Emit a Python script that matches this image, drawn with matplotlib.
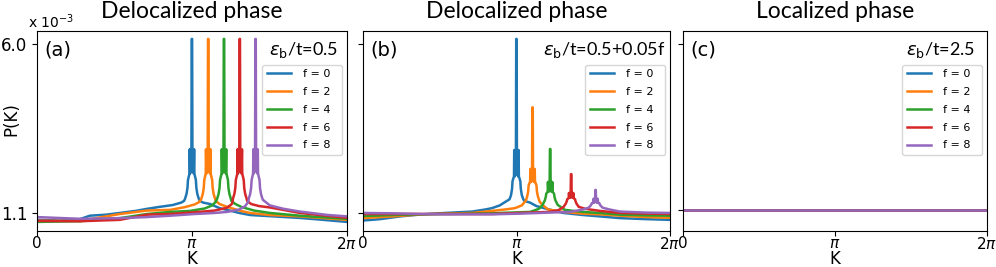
import numpy as np
import matplotlib
matplotlib.use("Agg")
import matplotlib.pyplot as plt

# P(K) in units of 1e-3, K in [0, 2pi]
f_values = [0, 2, 4, 6, 8]
colors = ["C0", "C1", "C2", "C3", "C4"]
core_dk = [-0.14, -0.11, -0.09, -0.08, -0.06, -0.05, -0.045, -0.035, -0.025, -0.02,
           -0.01, -0.004, 0.004, 0.01, 0.02, 0.025, 0.035, 0.045, 0.05, 0.06,
           0.08, 0.09, 0.11, 0.14]

# panel (a): eps_b/t = 0.5, peaks shifted but same height
centers_a = [3.14, 3.47, 3.79, 4.11, 4.43]
core_a = [1.51, 1.65, 1.83, 2.06, 2.18, 2.25, 2.95, 2.25, 2.95, 2.30, 3.00, 6.16,
          6.16, 3.00, 2.30, 2.95, 2.25, 2.95, 2.25, 2.18, 2.06, 1.83, 1.65, 1.51]
left_a = [
    [[0, 0.90], [0.45, 0.88], [0.87, 0.92], [1.07, 1.02], [1.4, 1.05], [1.68, 1.10],
     [2.0, 1.16], [2.23, 1.22], [2.5, 1.28], [2.75, 1.33], [2.92, 1.40], [2.98, 1.45]],
    [[0, 0.87], [0.87, 0.87], [1.68, 1.07], [2.23, 1.17], [2.70, 1.19], [3.0, 1.27],
     [3.2, 1.35], [3.29, 1.42], [3.32, 1.48]],
    [[0, 0.84], [0.87, 0.86], [1.68, 0.95], [2.23, 1.07], [2.70, 1.13], [3.1, 1.16],
     [3.4, 1.23], [3.55, 1.32], [3.62, 1.42], [3.64, 1.48]],
    [[0, 0.87], [0.87, 0.86], [1.68, 0.90], [2.23, 1.05], [2.70, 1.07], [3.2, 1.12],
     [3.6, 1.17], [3.85, 1.25], [3.95, 1.36], [3.97, 1.48]],
    [[0, 0.98], [0.87, 0.93], [1.68, 0.95], [2.23, 0.98], [2.70, 1.02], [3.2, 1.07],
     [3.6, 1.10], [3.85, 1.13], [4.1, 1.20], [4.22, 1.30], [4.28, 1.42], [4.29, 1.48]],
]
right_a = [
    [[3.30, 1.45], [3.37, 1.40], [3.51, 1.36], [3.7, 1.24], [3.85, 1.19], [4.1, 1.10],
     [4.32, 1.04], [4.8, 1.00], [5.33, 0.955], [5.8, 0.90], [6.2832, 0.84]],
    [[3.62, 1.45], [3.70, 1.36], [3.85, 1.28], [4.1, 1.17], [4.32, 1.10], [4.72, 1.04],
     [5.33, 1.00], [6.2832, 0.90]],
    [[3.94, 1.45], [4.02, 1.36], [4.15, 1.27], [4.4, 1.17], [4.72, 1.10], [5.33, 1.02],
     [6.2832, 0.93]],
    [[4.26, 1.45], [4.34, 1.36], [4.5, 1.30], [4.72, 1.26], [5.33, 1.10], [6.0, 1.00],
     [6.2832, 0.96]],
    [[4.58, 1.48], [4.65, 1.40], [4.72, 1.32], [5.0, 1.22], [5.33, 1.14], [5.9, 1.04],
     [6.2832, 1.00]],
]

# panel (b): eps_b/t = 0.5 + 0.05 f, peaks shrink with f
centers_b = [3.14, 3.47, 3.83, 4.26, 4.76]
core_b = [
    [1.50, 1.62, 1.80, 2.02, 2.12, 2.16, 2.93, 2.16, 2.93, 2.20, 2.95, 6.16,
     6.16, 2.95, 2.20, 2.93, 2.16, 2.93, 2.16, 2.12, 2.02, 1.80, 1.62, 1.50],
    [1.45, 1.58, 1.72, 1.90, 1.98, 2.00, 2.38, 2.00, 2.38, 2.02, 2.40, 4.17,
     4.17, 2.40, 2.02, 2.38, 2.00, 2.38, 2.00, 1.98, 1.90, 1.72, 1.58, 1.45],
    [1.38, 1.46, 1.56, 1.66, 1.70, 1.72, 2.00, 1.72, 2.00, 1.73, 2.02, 2.96,
     2.96, 2.02, 1.73, 2.00, 1.72, 2.00, 1.72, 1.70, 1.66, 1.56, 1.46, 1.38],
    [1.31, 1.37, 1.44, 1.50, 1.52, 1.54, 1.68, 1.54, 1.68, 1.55, 1.70, 2.23,
     2.23, 1.70, 1.55, 1.68, 1.54, 1.68, 1.54, 1.52, 1.50, 1.44, 1.37, 1.31],
    [1.26, 1.30, 1.34, 1.38, 1.39, 1.40, 1.51, 1.40, 1.51, 1.41, 1.52, 1.77,
     1.77, 1.52, 1.41, 1.51, 1.40, 1.51, 1.40, 1.39, 1.38, 1.34, 1.30, 1.26],
]
left_b = [
    [[0, 0.88], [0.35, 0.92], [0.76, 1.00], [1.21, 1.06], [1.68, 1.10], [2.23, 1.14],
     [2.5, 1.20], [2.64, 1.24], [2.8, 1.32], [2.91, 1.42], [2.98, 1.48]],
    [[0, 0.95], [0.6, 1.00], [1.21, 1.06], [1.68, 1.08], [2.23, 1.10], [2.64, 1.16],
     [2.9, 1.20], [3.11, 1.24], [3.25, 1.32], [3.31, 1.42]],
    [[0, 1.01], [0.6, 1.04], [1.21, 1.06], [1.68, 1.07], [2.23, 1.08], [2.64, 1.09],
     [3.0, 1.11], [3.42, 1.13], [3.6, 1.22], [3.68, 1.34]],
    [[0, 1.07], [0.6, 1.07], [1.21, 1.07], [2.23, 1.07], [2.64, 1.07], [3.2, 1.10],
     [3.8, 1.13], [4.0, 1.18], [4.11, 1.28]],
    [[0, 1.10], [0.6, 1.09], [1.21, 1.07], [1.68, 1.06], [2.64, 1.06], [3.2, 1.08],
     [3.8, 1.11], [4.24, 1.13], [4.5, 1.20], [4.61, 1.25]],
]
right_b = [
    [[3.30, 1.45], [3.42, 1.40], [3.55, 1.30], [3.76, 1.22], [4.1, 1.10], [4.5, 1.04],
     [4.85, 1.00], [5.26, 0.95], [5.8, 0.92], [6.2832, 0.90]],
    [[3.63, 1.40], [3.70, 1.30], [3.79, 1.20], [4.1, 1.13], [4.5, 1.08], [4.85, 1.06],
     [5.26, 1.02], [5.8, 0.98], [6.2832, 0.96]],
    [[3.98, 1.34], [4.13, 1.19], [4.5, 1.13], [4.85, 1.10], [5.26, 1.05], [5.8, 1.03],
     [6.2832, 1.02]],
    [[4.41, 1.28], [4.55, 1.22], [4.85, 1.16], [5.26, 1.10], [5.8, 1.08], [6.2832, 1.07]],
    [[4.91, 1.25], [5.05, 1.20], [5.26, 1.14], [5.8, 1.11], [6.2832, 1.10]],
]

# panel (c): eps_b/t = 2.5, flat
level_c = [1.19, 1.19, 1.19, 1.19, 1.19]
k_flat = [0, 6.2832]

titles = ["Delocalized phase", "Delocalized phase", "Localized phase"]
panel_tags = ["(a)", "(b)", "(c)"]
eps_texts = [r"$\varepsilon_{\mathrm{b}}$/t=0.5", r"$\varepsilon_{\mathrm{b}}$/t=0.5+0.05f",
             r"$\varepsilon_{\mathrm{b}}$/t=2.5"]


def build_curve(left, center, dk, core, right):
    k = [p[0] for p in left] + [center + d for d in dk] + [p[0] for p in right]
    v = [p[1] for p in left] + list(core) + [p[1] for p in right]
    return np.array(k), np.array(v)


fig = plt.figure(figsize=(9.96, 2.67), dpi=100)
lefts = [37, 363, 683]
widths = [310, 307, 304]
axes = []
for l, w in zip(lefts, widths):
    axes.append(fig.add_axes([l / 996, 36.5 / 267, w / 996, 199.5 / 267]))

for i, f in enumerate(f_values):
    lab = "f = %d  " % f
    k, v = build_curve(left_a[i], centers_a[i], core_dk, core_a, right_a[i])
    axes[0].plot(k, v, color=colors[i], lw=1.8, label=lab)
    k, v = build_curve(left_b[i], centers_b[i], core_dk, core_b[i], right_b[i])
    axes[1].plot(k, v, color=colors[i], lw=1.8, label=lab)
    axes[2].plot(k_flat, [level_c[i]] * 2, color=colors[i], lw=1.8, label=lab)

eps_x = [0.971, 0.984, 0.961]
for j, ax in enumerate(axes):
    ax.set_xlim(0, 2 * np.pi)
    ax.set_ylim(0.59, 6.39)
    ax.set_xticks([0, np.pi, 2 * np.pi])
    ax.set_xticklabels(["0", r"$\pi$", r"$2\pi$"], fontsize=11)
    ax.tick_params(axis="x", pad=0.5)
    ax.set_xlabel("K", fontsize=12)
    ax.xaxis.set_label_coords(0.5, -0.1)
    ax.set_title(titles[j], fontsize=16.5, family="Lato", pad=9)
    ax.text(0.025, 0.905, panel_tags[j], transform=ax.transAxes, fontsize=14,
            va="center", ha="left")
    ax.text(eps_x[j], 0.905, eps_texts[j], transform=ax.transAxes, fontsize=13,
            va="center", ha="right", family="Lato")
    ax.legend(loc="upper right", bbox_to_anchor=(0.985, 0.83), borderaxespad=0,
              fontsize=8, handlelength=2.2, handletextpad=1.1, labelspacing=0.7)
    if j == 2:
        ax.set_yticks([level_c[0], 6.0])
    else:
        ax.set_yticks([1.1, 6.0])
    if j == 0:
        ax.set_yticklabels(["1.1", "6.0"], fontsize=12)
        ax.set_ylabel("P(K)", fontsize=12)
        ax.yaxis.set_label_coords(-0.055, 0.56)
    else:
        ax.set_yticklabels([])

fig.text(28 / 996, 1 - 28 / 267, r"x 10$^{-3}$", fontsize=10)

plt.savefig("out.png", dpi=100)
